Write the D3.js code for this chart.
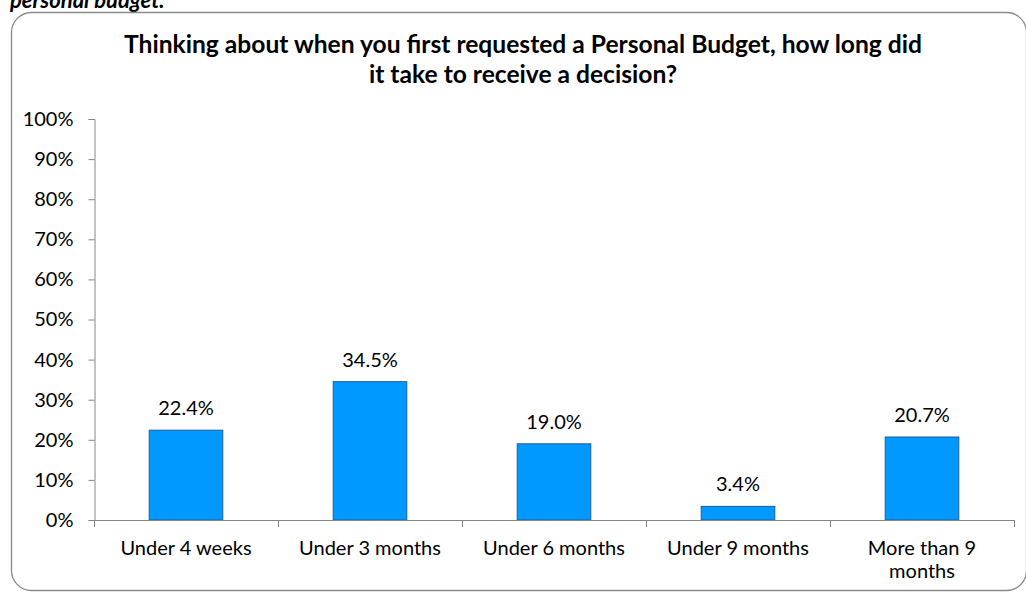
<!DOCTYPE html>
<html>
<head>
<meta charset="utf-8">
<script src="https://cdn.jsdelivr.net/npm/d3@7"></script>
<style>
  html, body { margin: 0; padding: 0; background: #fff; }
  svg { display: block; font-family: Lato, "Open Sans", sans-serif; }
</style>
</head>
<body>
<svg id="chart" width="1026" height="594"></svg>
<script>
// Survey responses: time taken to receive a Personal Budget decision
const categories = ["Under 4 weeks", "Under 3 months", "Under 6 months", "Under 9 months", "More than 9 months"];
const shares = [22.4, 34.5, 19.0, 3.4, 20.7];
const yTicks = [0, 10, 20, 30, 40, 50, 60, 70, 80, 90, 100];
const titleLines = [
  "Thinking about when you first requested a Personal Budget, how long did",
  "it take to receive a decision?"
];
const captionTail = "personal budget.";

const svg = d3.select("#chart");
const labelSize = 20;

// Caption text from the surrounding document, running off the top edge
svg.append("text")
  .attr("x", 10).attr("y", 8)
  .attr("font-size", 22).attr("font-weight", "bold").attr("font-style", "italic")
  .attr("fill", "#000")
  .text(captionTail);

// Chart frame
svg.append("rect")
  .attr("x", 11.5).attr("y", 12.5)
  .attr("width", 1015).attr("height", 578)
  .attr("rx", 20).attr("ry", 20)
  .attr("fill", "#fff")
  .attr("stroke", "#8a8a8a").attr("stroke-width", 1.3);

// Title
const title = svg.append("g");
titleLines.forEach((line, i) => {
  title.append("text")
    .attr("x", 523).attr("y", 53 + i * 30)
    .attr("text-anchor", "middle")
    .attr("font-size", 20).attr("font-weight", "bold")
    .attr("fill", "#000")
    .text(line);
});
// Scale the title so the first line spans its intended width
{
  const first = title.select("text").node();
  const w = first.getComputedTextLength();
  const fs = 20 * 798 / w;
  title.selectAll("text").attr("font-size", fs);
}

// Scales
const x = d3.scaleBand().domain(categories).range([94, 1014]).padding(0);
const y = d3.scaleLinear().domain([0, 100]).range([520, 119]);
const barWidth = x.bandwidth() * 0.4;

// Y axis
const yAxis = svg.append("g")
  .attr("transform", "translate(94.5,0)")
  .call(d3.axisLeft(y).tickValues(yTicks).tickSize(6).tickPadding(15).tickFormat(d => d + "%"));
yAxis.select(".domain").attr("stroke", "#868686");
yAxis.selectAll(".tick line").attr("stroke", "#868686");
yAxis.selectAll(".tick text")
  .attr("font-family", "Lato, sans-serif").attr("font-size", labelSize).attr("fill", "#000");

// Bars
svg.append("g").selectAll("rect")
  .data(shares)
  .join("rect")
  .attr("x", (d, i) => x(categories[i]) + (x.bandwidth() - barWidth) / 2)
  .attr("y", d => y(d))
  .attr("width", barWidth)
  .attr("height", d => y(0) - y(d))
  .attr("fill", "#0099ff")
  .attr("stroke", "#1f5c99").attr("stroke-width", 1);

// X axis line and category boundary ticks
const xAxis = svg.append("g");
xAxis.append("line")
  .attr("x1", x.range()[0]).attr("x2", x.range()[1])
  .attr("y1", y(0) + 0.5).attr("y2", y(0) + 0.5)
  .attr("stroke", "#868686");
const bounds = categories.map(c => x(c)).concat([x(categories[categories.length - 1]) + x.bandwidth()]);
xAxis.selectAll("line.tick")
  .data(bounds)
  .join("line")
  .attr("class", "tick")
  .attr("x1", d => Math.round(d) + 0.5).attr("x2", d => Math.round(d) + 0.5)
  .attr("y1", y(0)).attr("y2", y(0) + 7)
  .attr("stroke", "#868686");

// Category labels, wrapped to fit
function wrapLines(textSel, label, maxWidth) {
  const words = label.split(" ");
  const lines = [];
  let cur = [];
  const probe = textSel.append("tspan");
  words.forEach(w => {
    const test = cur.concat([w]).join(" ");
    probe.text(test);
    if (probe.node().getComputedTextLength() > maxWidth && cur.length) {
      lines.push(cur.join(" "));
      cur = [w];
    } else {
      cur.push(w);
    }
  });
  lines.push(cur.join(" "));
  probe.remove();
  return lines;
}
categories.forEach(c => {
  const t = svg.append("text")
    .attr("text-anchor", "middle")
    .attr("font-size", labelSize).attr("fill", "#000");
  const lines = wrapLines(t, c, 160);
  lines.forEach((ln, j) => {
    t.append("tspan")
      .attr("x", x(c) + x.bandwidth() / 2)
      .attr("y", 555 + j * 23)
      .text(ln);
  });
});

// Value labels
svg.append("g").selectAll("text")
  .data(shares)
  .join("text")
  .attr("x", (d, i) => x(categories[i]) + x.bandwidth() / 2)
  .attr("y", d => y(d) - 15)
  .attr("text-anchor", "middle")
  .attr("font-size", labelSize).attr("fill", "#000")
  .text(d => d.toFixed(1) + "%");
</script>
</body>
</html>
